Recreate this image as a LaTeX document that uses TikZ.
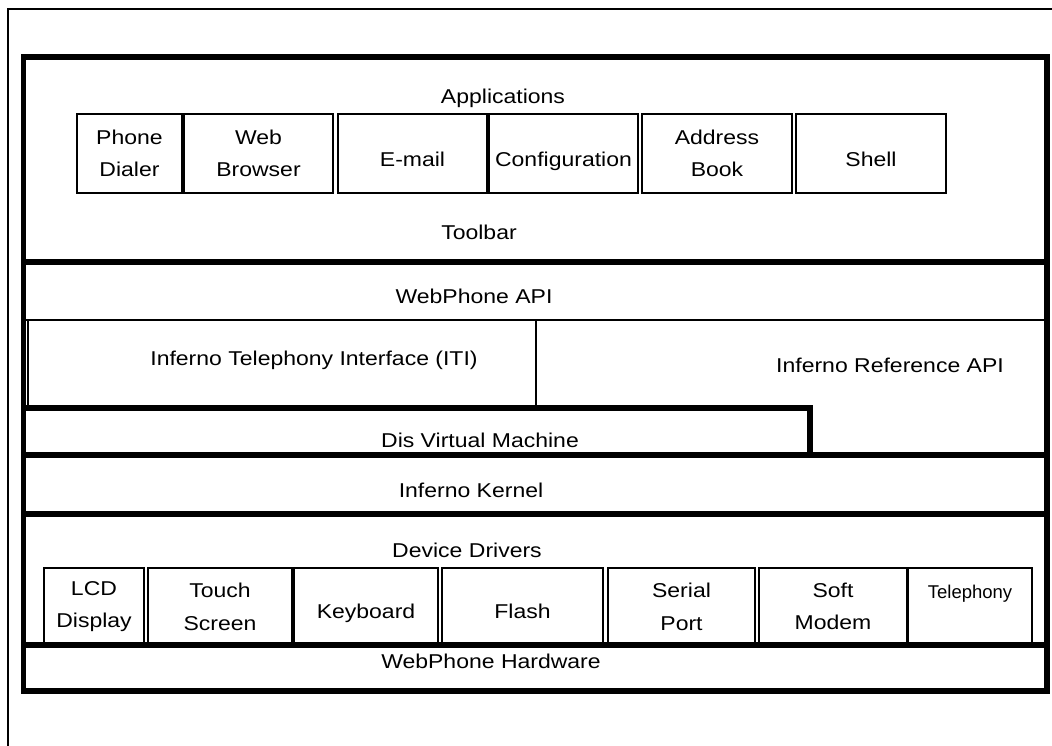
\documentclass[tikz,border=0pt]{standalone}
\usepackage{fontspec}
\setmainfont{Liberation Sans}[FakeStretch=1.15]
\newfontfamily\plainsans{Liberation Sans}

\tikzset{
    thinline/.style={line width=1.5pt},
    thickline/.style={line width=5.5pt},
    appbox/.style={draw, thinline, minimum height=79pt, inner sep=1pt, align=center},
    drvbox/.style={draw, thinline, minimum height=77pt, inner sep=1pt, align=center},
    layer/.style={anchor=base, inner sep=0pt},
}

\begin{document}
\begin{tikzpicture}[x=1pt, y=-1pt, font=\fontsize{20}{32.7}\selectfont]
            \useasboundingbox (0,0) rectangle (1052,746);
            % page frame, cut off at the right and bottom
            \draw[thinline] (8,746) -- (8,9) -- (1052,9);

            % the stack
            \draw[thickline] (23.5,57) rectangle (1047,691);
            \foreach \y in {262,455,514,645}
                \draw[thickline] (23.5,\y) -- (1047,\y);
            \draw[thinline] (23.5,320) -- (1047,320);
            \draw[thickline] (23.5,408) -- (810,408) -- (810,455);

            % applications
            \node[layer] (apps) at (503,104) {Applications};
            \node[appbox, minimum width=105pt] (dialer) at (129.5,153.5) {Phone\\Dialer};
            \node[appbox, minimum width=149pt] (browser) at (258.5,153.5) {Web\\Browser};
            \node[appbox, minimum width=149pt, text height=27pt, text depth=0pt] (email) at (412.5,153.5) {E-mail};
            \node[appbox, minimum width=149pt, text height=27pt, text depth=0pt] (config) at (563.5,153.5) {Configuration};
            \node[appbox, minimum width=150pt] (address) at (717,153.5) {Address\\Book};
            \node[appbox, minimum width=150pt, text height=27pt, text depth=0pt] (shell) at (871,153.5) {Shell};
            \node[layer] (toolbar) at (479,240) {Toolbar};

            % middle layers
            \node[layer] (api) at (474,303) {WebPhone API};
            \node[draw, thinline, minimum width=508pt, minimum height=88pt, inner sep=0pt] (iti) at (282,364) {};
            \node[layer] (itilbl) at (314,365) {Inferno Telephony Interface (ITI)};
            \node[layer] (refapi) at (890,372) {Inferno Reference API};
            \node[layer] (dis) at (480,447) {Dis Virtual Machine};
            \node[layer] (kernel) at (471,497) {Inferno Kernel};

            % drivers
            \node[layer] (drivers) at (467,557) {Device Drivers};
            \node[drvbox, minimum width=100pt] (lcd) at (94,606.5) {LCD\\Display};
            \node[drvbox, minimum width=144pt] (touch) at (220,606.5) {Touch\\Screen};
            \node[drvbox, minimum width=144pt, text height=23pt, text depth=0pt] (keyboard) at (366,606.5) {Keyboard};
            \node[drvbox, minimum width=161pt, text height=23pt, text depth=0pt] (flash) at (522.5,606.5) {Flash};
            \node[drvbox, minimum width=147pt] (serial) at (681.5,606.5) {Serial\\Port};
            \node[drvbox, minimum width=148pt] (modem) at (833,606.5) {Soft\\Modem};
            \node[drvbox, minimum width=124pt, text height=13.5pt, text depth=30.5pt,
                  font=\plainsans\fontsize{18.5}{22}\selectfont] (telephony) at (970,606.5) {Telephony};
            \node[layer] (hardware) at (491,668) {WebPhone Hardware};
        \end{tikzpicture}
\end{document}
